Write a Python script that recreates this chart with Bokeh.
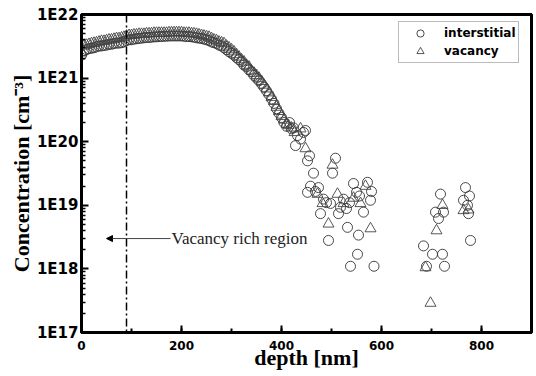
from bokeh.plotting import figure
from bokeh.models import (Span, Arrow, NormalHead, Label, Legend, LegendItem,
                          FixedTicker, SingleIntervalTicker, CustomJSTickFormatter,
                          Range1d, ColumnDataSource)
from bokeh.embed import file_html
from bokeh.resources import INLINE

# ---------------- data ----------------
# near-surface profile, depth in nm
curve_depth = [0, 5, 10, 15, 20, 25, 30, 35, 40, 45, 50, 55, 60, 65, 70, 75, 80, 85,
               90, 95, 100, 105, 110, 115, 120, 125, 130, 135, 140, 145, 150, 155,
               160, 165, 170, 175, 180, 185, 190, 195, 200, 205, 210, 215, 220, 225,
               230, 235, 240, 245, 250, 255, 260, 265, 270, 275, 280, 285, 290, 295,
               300, 305, 310, 315, 320, 325, 330, 335, 340, 345, 350, 355, 360, 365,
               370, 375, 380, 385, 390, 395, 400, 405, 410]

vacancy_curve = [2.5e21, 3.2e21, 3.3e21, 3.4e21, 3.5e21, 3.55e21, 3.6e21, 3.7e21, 3.8e21,
                 3.8e21, 3.9e21, 4.0e21, 4.0e21, 4.1e21, 4.2e21, 4.2e21, 4.3e21, 4.4e21,
                 4.6e21, 4.7e21, 4.7e21, 4.8e21, 4.8e21, 4.9e21, 4.9e21, 4.9e21, 5.0e21,
                 5.0e21, 5.0e21, 5.1e21, 5.1e21, 5.1e21, 5.1e21, 5.1e21, 5.1e21, 5.2e21,
                 5.2e21, 5.2e21, 5.2e21, 5.2e21, 5.2e21, 5.1e21, 5.1e21, 5.1e21, 5.0e21,
                 5.0e21, 4.9e21, 4.8e21, 4.7e21, 4.6e21, 4.5e21, 4.4e21, 4.2e21, 4.0e21,
                 3.9e21, 3.7e21, 3.6e21, 3.5e21, 3.2e21, 3.0e21, 2.8e21, 2.6e21, 2.35e21,
                 2.15e21, 1.95e21, 1.8e21, 1.6e21, 1.5e21, 1.3e21, 1.2e21, 1.1e21, 1.0e21,
                 8.9e20, 7.8e20, 6.8e20, 5.9e20, 5.0e20, 4.3e20, 3.5e20, 3.0e20, 2.5e20,
                 2.2e20, 1.9e20]

interstitial_curve = [2.3e21, 2.7e21, 2.8e21, 2.9e21, 2.95e21, 3.0e21, 3.1e21, 3.2e21, 3.2e21,
                      3.25e21, 3.3e21, 3.4e21, 3.4e21, 3.5e21, 3.55e21, 3.55e21, 3.6e21, 3.7e21,
                      3.9e21, 4.0e21, 4.0e21, 4.1e21, 4.15e21, 4.2e21, 4.25e21, 4.3e21, 4.35e21,
                      4.35e21, 4.4e21, 4.45e21, 4.45e21, 4.5e21, 4.5e21, 4.55e21, 4.55e21, 4.6e21,
                      4.6e21, 4.6e21, 4.6e21, 4.6e21, 4.6e21, 4.55e21, 4.5e21, 4.5e21, 4.45e21,
                      4.4e21, 4.3e21, 4.25e21, 4.2e21, 4.1e21, 4.0e21, 3.9e21, 3.7e21, 3.6e21,
                      3.5e21, 3.3e21, 3.2e21, 3.0e21, 2.8e21, 2.6e21, 2.45e21, 2.3e21, 2.1e21,
                      1.95e21, 1.8e21, 1.6e21, 1.5e21, 1.35e21, 1.25e21, 1.1e21, 1.0e21, 9.1e20,
                      8.1e20, 7.2e20, 6.3e20, 5.5e20, 4.7e20, 4.0e20, 3.3e20, 2.8e20, 2.4e20,
                      2.0e20, 1.75e20]

# scattered deep points
interstitial_depth = [416, 420, 424, 428, 432, 438, 444, 448, 452, 456, 464, 452, 458, 474,
                      468, 478, 484, 490, 498, 502, 508, 514, 518, 524, 530, 536, 544, 550,
                      556, 564, 572, 578, 580, 494, 532, 554, 552, 538, 585, 684, 702, 722,
                      726, 690, 718, 708, 724, 714, 768, 776, 764, 772, 774, 778]
interstitial_conc = [2.0e20, 1.6e20, 1.65e20, 8.7e19, 1.25e20, 1.1e20, 1.4e20, 1.5e20, 5.0e19,
                     6.0e19, 3.2e19, 1.6e19, 2.0e19, 1.9e19, 1.65e19, 7.4e18, 1.25e19, 1.1e19,
                     1.07e19, 3.2e19, 5.5e19, 7.4e18, 9.3e18, 1.25e19, 8.9e18, 1.1e19, 2.2e19,
                     1.6e19, 1.4e19, 7.8e18, 2.3e19, 1.2e19, 1.65e19, 2.8e18, 4.5e18, 3.4e18,
                     1.7e18, 1.1e18, 1.1e18, 2.3e18, 1.7e18, 1.7e18, 1.1e18, 1.1e18, 1.5e19,
                     7.8e18, 7.8e18, 6.2e18, 1.9e19, 1.4e19, 1.2e19, 1.0e19, 7.4e18, 2.8e18]

vacancy_depth = [414, 420, 426, 438, 448, 472, 482, 494, 502, 512, 524, 544, 558, 568, 578,
                 688, 698, 710, 722, 764, 774]
vacancy_conc = [1.8e20, 1.65e20, 1.4e20, 1.6e20, 7.8e19, 1.5e19, 1.07e19, 5.1e18, 4.3e19,
                1.5e19, 1.07e19, 1.3e19, 1.07e19, 2.0e19, 4.3e18, 1.05e18, 2.9e17, 4.0e18,
                1.0e19, 8.3e18, 8.5e18]

x_ticks_interval = 200
y_decades = [1e17, 1e18, 1e19, 1e20, 1e21, 1e22]
boundary_depth = 90
annotation_text = "Vacancy rich region"

# ---------------- figure ----------------
p = figure(width=536, height=376, x_range=Range1d(0, 900), y_range=Range1d(1e17, 1e22),
           y_axis_type="log", output_backend="svg", toolbar_location=None,
           min_border_left=81, min_border_right=5, min_border_top=14, min_border_bottom=44)
p.grid.visible = False
p.outline_line_color = "black"
p.outline_line_width = 3
p.background_fill_color = "white"
p.border_fill_color = "white"

inter_src = ColumnDataSource(dict(x=curve_depth + interstitial_depth,
                                  y=interstitial_curve + interstitial_conc))
vac_src = ColumnDataSource(dict(x=curve_depth + vacancy_depth,
                                y=vacancy_curve + vacancy_conc))

r_int = p.scatter("x", "y", source=inter_src, marker="circle", size=10,
                  fill_color=None, line_color="#333333", line_width=0.9)
r_vac = p.scatter("x", "y", source=vac_src, marker="triangle", size=11,
                  fill_color=None, line_color="#444444", line_width=0.9)

# axes
xa = p.xaxis[0]
xa.ticker = SingleIntervalTicker(interval=x_ticks_interval, num_minor_ticks=2)
xa.axis_line_width = 3
xa.major_tick_in = 7
xa.major_tick_out = 0
xa.minor_tick_in = 4
xa.minor_tick_out = 0
xa.major_tick_line_width = 2
xa.minor_tick_line_width = 2
xa.major_label_text_font = "DejaVu Sans"
xa.major_label_text_font_style = "bold"
xa.major_label_text_font_size = "12px"
xa.major_label_text_color = "black"
xa.major_label_standoff = 8
xa.axis_label = "depth [nm]"
xa.axis_label_text_font = "Liberation Serif"
xa.axis_label_text_font_style = "bold"
xa.axis_label_text_font_size = "22px"
xa.axis_label_text_color = "black"
xa.axis_label_standoff = -8

minor_y = [m * d for d in y_decades[:-1] for m in range(2, 10)]
ya = p.yaxis[0]
ya.ticker = FixedTicker(ticks=y_decades, minor_ticks=minor_y)
ya.formatter = CustomJSTickFormatter(code="return '1E' + Math.round(Math.log10(tick));")
ya.axis_line_width = 3
ya.major_tick_in = 7
ya.major_tick_out = 0
ya.minor_tick_in = 4
ya.minor_tick_out = 0
ya.major_tick_line_width = 2
ya.minor_tick_line_width = 1.5
ya.major_label_text_font = "DejaVu Sans"
ya.major_label_text_font_style = "bold"
ya.major_label_text_font_size = "15px"
ya.major_label_text_color = "black"
ya.major_label_standoff = 3
ya.axis_label = "Concentration [cm\u207b\u00b3]"
ya.axis_label_text_font = "Liberation Serif"
ya.axis_label_text_font_style = "bold"
ya.axis_label_text_font_size = "22px"
ya.axis_label_text_color = "black"
ya.axis_label_standoff = 0

# boundary line
p.add_layout(Span(location=boundary_depth, dimension="height", line_color="black",
                  line_width=1.5, line_dash="8 3 2 3"))

# arrow + annotation
p.add_layout(Arrow(end=NormalHead(size=6, fill_color="black", line_color="black", line_width=1),
                   x_start=178, y_start=3e18, x_end=50, y_end=3e18,
                   line_color="#444444", line_width=1))
p.add_layout(Label(x=180, y=3e18, text=annotation_text, text_baseline="middle",
                   text_font="Liberation Serif", text_font_size="17px",
                   text_color="#222222"))

legend = Legend(items=[LegendItem(label="interstitial", renderers=[r_int]),
                       LegendItem(label="vacancy", renderers=[r_vac])],
                location=(317, 269), orientation="vertical",
                label_text_font="DejaVu Sans", label_text_font_style="bold",
                label_text_font_size="12px", label_text_color="black",
                border_line_color="#777777", border_line_width=1,
                background_fill_color="white", background_fill_alpha=1.0,
                padding=2, spacing=0, margin=0, glyph_width=38, glyph_height=18,
                label_standoff=5, label_height=18)
p.add_layout(legend)

open("out.html", "w").write(file_html(p, INLINE))
